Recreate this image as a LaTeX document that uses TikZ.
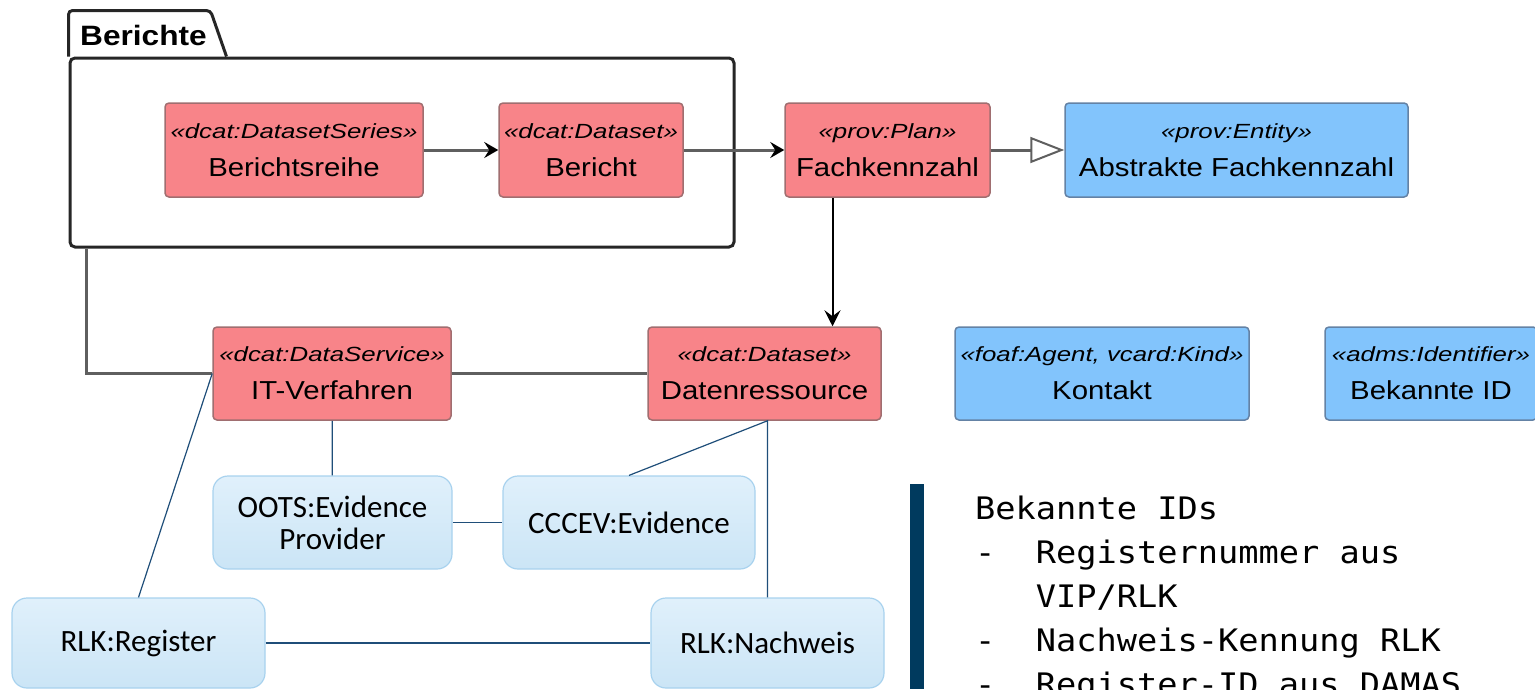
\documentclass[tikz,border=0pt]{standalone}
\usepackage{fontspec}
\setmainfont{Liberation Sans}
\newfontfamily\classfont[FakeStretch=1.13]{Liberation Sans}
\newfontfamily\stereofont[FakeStretch=1.26]{Liberation Sans}
\newfontfamily\notefont{Carlito}
\newfontfamily\idfont[FakeStretch=1.085]{DejaVu Sans Mono}
\usetikzlibrary{arrows.meta}

\definecolor{classred}{RGB}{248,132,137}
\definecolor{classredline}{RGB}{160,110,112}
\definecolor{classblue}{RGB}{130,196,252}
\definecolor{classblueline}{RGB}{100,130,165}
\definecolor{notetop}{RGB}{224,240,251}
\definecolor{notebottom}{RGB}{203,229,246}
\definecolor{noteline}{RGB}{168,210,238}
\definecolor{linkblue}{RGB}{31,78,121}
\definecolor{barblue}{RGB}{0,58,94}
\definecolor{assocgray}{RGB}{95,95,95}

\newcommand{\umlclass}[2]{{\stereofont\itshape\fontsize{20.5}{38}\selectfont «#1»}\\#2}
\newcommand{\idindent}{\hphantom{-\ \ }}

\tikzset{
  umlbox/.style={draw=classredline, fill=classred, line width=1.5pt, rounded corners=4pt,
    align=center, inner sep=0pt, font=\classfont\fontsize{26}{38}\selectfont},
  entitybox/.style={umlbox, draw=classblueline, fill=classblue},
  notebox/.style={draw=noteline, top color=notetop, bottom color=notebottom, line width=1.2pt,
    rounded corners=15pt, align=center, inner sep=0pt, font=\notefont\fontsize{31}{32}\selectfont},
  pkg/.style={draw=black!85, line width=3pt, rounded corners=5pt},
  flow/.style={draw=assocgray, line width=3pt, -{Stealth[black, length=14pt, width=16pt, inset=5pt]}},
  dep/.style={draw=black, line width=2pt, -{Stealth[length=16pt, width=16pt, inset=6pt]}},
  inherit/.style={draw=assocgray, line width=3pt, -{Triangle[open, fill=white, length=34pt, width=26pt, line width=2pt]}},
  assoc/.style={draw=assocgray, line width=3pt},
  link/.style={draw=linkblue, line width=1.2pt},
}

\begin{document}
\begin{tikzpicture}[x=1pt, y=-1pt]
    \useasboundingbox (0,0) rectangle (1535,689);

    % package Berichte
    \node[pkg, minimum width=664pt, minimum height=189pt] (berichte) at (402,152.5) {};
    \draw[pkg, rounded corners=4pt] (berichte.north west) -- ++(0,-46) -- ++(142,0) -- ([xshift=158pt]berichte.north west);
    \node[anchor=base west, inner sep=0pt, font=\classfont\bfseries\fontsize{28}{30}\selectfont] (pkglabel) at (80,45) {Berichte};

    % classes
    \node[umlbox, minimum width=258pt, minimum height=94pt] (reihe) at (294,150) {\umlclass{dcat:DatasetSeries}{Berichtsreihe}};
    \node[umlbox, minimum width=184pt, minimum height=94pt] (bericht) at (591,150) {\umlclass{dcat:Dataset}{Bericht}};
    \node[umlbox, minimum width=205pt, minimum height=94pt] (fach) at (887.5,150) {\umlclass{prov:Plan}{Fachkennzahl}};
    \node[entitybox, minimum width=343pt, minimum height=94pt] (abstrakt) at (1236.5,150) {\umlclass{prov:Entity}{Abstrakte Fachkennzahl}};
    \node[umlbox, minimum width=238pt, minimum height=93pt] (it) at (332,373.5) {\umlclass{dcat:DataService}{IT-Verfahren}};
    \node[umlbox, minimum width=233pt, minimum height=93pt] (daten) at (764.5,373.5) {\umlclass{dcat:Dataset}{Datenressource}};
    \node[entitybox, minimum width=294pt, minimum height=93pt] (kontakt) at (1102,373.5) {\umlclass{foaf:Agent, vcard:Kind}{Kontakt}};
    \node[entitybox, minimum width=212pt, minimum height=93pt] (bekannt) at (1431,373.5) {\umlclass{adms:Identifier}{Bekannte ID}};

    % external terms
    \node[notebox, minimum width=239pt, minimum height=93pt] (oots) at (332.5,522.5) {OOTS:Evidence\\Provider};
    \node[notebox, minimum width=252pt, minimum height=93pt] (cccev) at (629,522.5) {CCCEV:Evidence};
    \node[notebox, minimum width=253pt, minimum height=90pt] (register) at (138.5,643) {RLK:Register};
    \node[notebox, minimum width=233pt, minimum height=90pt] (nachweis) at (767.5,643) {RLK:Nachweis};

    % connectors
    \draw[flow] (reihe) -- (bericht);
    \draw[flow] (bericht) -- (fach);
    \draw[inherit] (fach) -- (abstrakt);
    \draw[dep] ([xshift=-55pt]fach.south) -- ([xshift=-55pt]fach.south |- daten.north);
    \draw[assoc] ([xshift=18pt]berichte.south west) |- (it);
    \draw[assoc] (it) -- (daten);
    \draw[link] (it) -- (oots);
    \draw[link] (oots) -- (cccev);
    \draw[link] (it.west) -- (register.north);
    \draw[link] (register) -- (nachweis);
    \draw[link] (cccev.north) -- (daten.south -| nachweis) -- (nachweis.north);

    % note on IDs
    \fill[barblue] (910,484) rectangle (924,689);
    \node[anchor=north west, inner sep=0pt, align=left, font=\idfont\fontsize{31}{44}\selectfont] (ids) at (975,496) {Bekannte IDs\\-\ \ Registernummer aus\\\idindent VIP/RLK\\-\ \ Nachweis-Kennung RLK\\-\ \ Register-ID aus DAMAS};
\end{tikzpicture}
\end{document}
